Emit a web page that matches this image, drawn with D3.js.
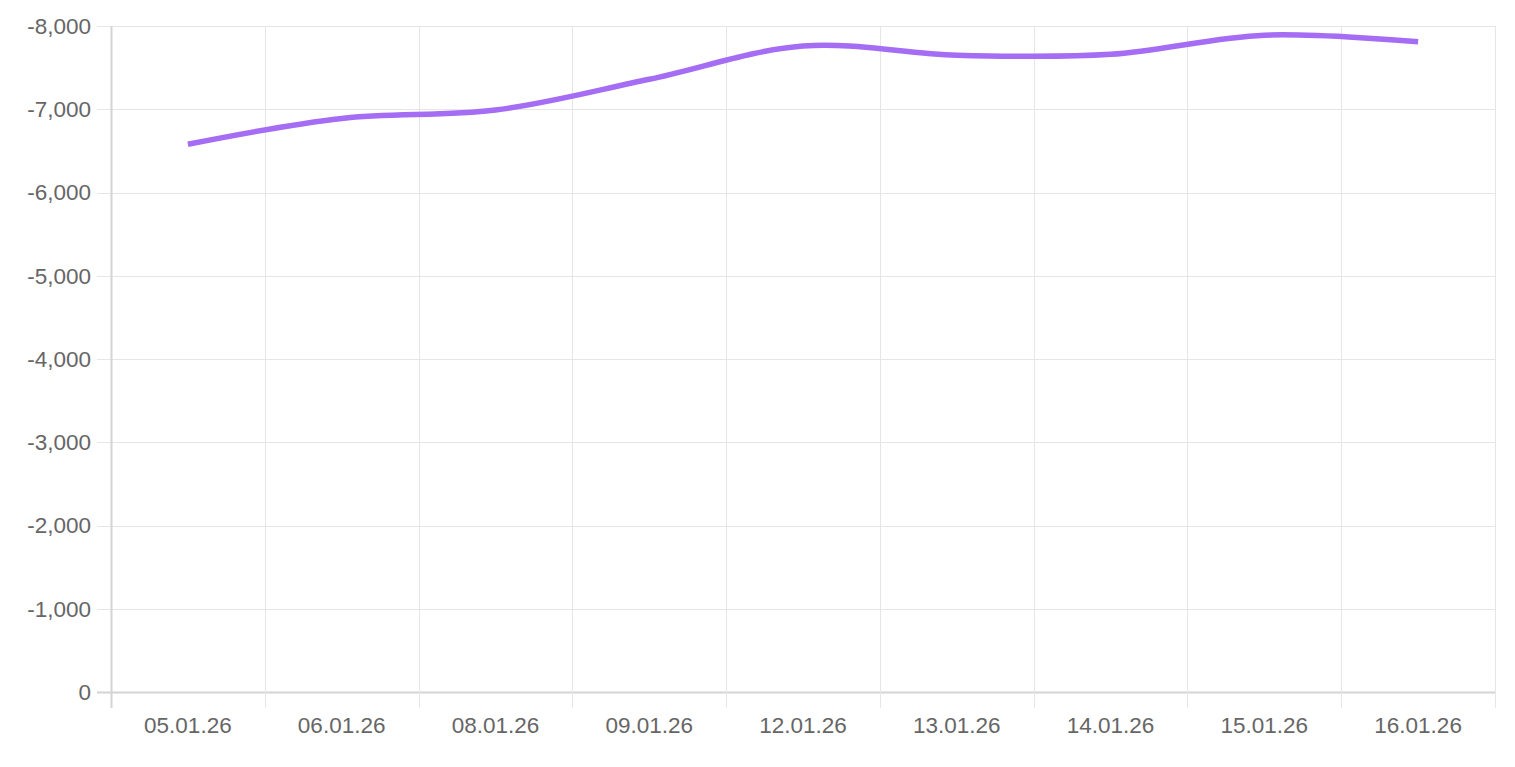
<!DOCTYPE html>
<html>
<head>
<meta charset="utf-8">
<script src="https://cdn.jsdelivr.net/npm/d3@7"></script>
<style>
  body { margin: 0; background: #fff; }
  text { font-family: "Liberation Sans", Arial, sans-serif; }
</style>
</head>
<body>
<div id="graph"></div>
<script>
var dates = ["05.01.26", "06.01.26", "08.01.26", "09.01.26", "12.01.26", "13.01.26", "14.01.26", "15.01.26", "16.01.26"];
var values = [-6580, -6890, -6990, -7360, -7760, -7650, -7660, -7890, -7810];
var yTicks = [0, -1000, -2000, -3000, -4000, -5000, -6000, -7000, -8000];

var width = 1515, height = 767;
var margins = {top: 26, right: 20, bottom: 75, left: 111};
var tickLen = 14;

var svg = d3.select('#graph')
  .append('svg')
  .attr('width', width)
  .attr('height', height)
  .style('display', 'block');

var x = d3.scaleBand()
  .domain(dates)
  .range([margins.left, width - margins.right])
  .padding(0);

/* y runs from 0 at the bottom to -8000 at the top */
var y = d3.scaleLinear()
  .domain([0, -8000])
  .range([height - margins.bottom, margins.top]);

var fmt = d3.formatLocale({decimal: ".", thousands: ",", grouping: [3], currency: ["", ""], minus: "-"}).format(",");

var bottom = height - margins.bottom;
var right = width - margins.right;

// horizontal grid
svg.append('g')
  .selectAll('line')
  .data(yTicks)
  .join('line')
  .attr('x1', margins.left - tickLen)
  .attr('x2', right)
  .attr('y1', function(d) { return Math.round(y(d)) + 0.5; })
  .attr('y2', function(d) { return Math.round(y(d)) + 0.5; })
  .attr('stroke', function(d) { return d === 0 ? '#d4d4d4' : '#e6e6e6'; })
  .attr('stroke-width', function(d) { return d === 0 ? 2 : 1; });

// vertical grid at band edges
var edges = dates.map(function(d) { return x(d); }).concat([right]);
svg.append('g')
  .selectAll('line')
  .data(edges)
  .join('line')
  .attr('x1', function(d) { return Math.round(d) + 0.5; })
  .attr('x2', function(d) { return Math.round(d) + 0.5; })
  .attr('y1', margins.top)
  .attr('y2', bottom + tickLen + 2)
  .attr('stroke', function(d, i) { return i === 0 ? '#d4d4d4' : '#e6e6e6'; })
  .attr('stroke-width', function(d, i) { return i === 0 ? 2 : 1; });

// y labels
svg.append('g')
  .selectAll('text')
  .data(yTicks)
  .join('text')
  .attr('x', margins.left - tickLen - 6)
  .attr('y', function(d) { return y(d); })
  .attr('dy', '0.35em')
  .attr('text-anchor', 'end')
  .attr('fill', '#666')
  .style('font-size', '22.5px')
  .text(function(d) { return fmt(d); });

// x labels
svg.append('g')
  .selectAll('text')
  .data(dates)
  .join('text')
  .attr('x', function(d) { return x(d) + x.bandwidth() / 2; })
  .attr('y', bottom + 41)
  .attr('text-anchor', 'middle')
  .attr('fill', '#666')
  .style('font-size', '22.5px')
  .text(function(d) { return d; });

var lineFunc = d3.line()
  .x(function(d, i) { return x(dates[i]) + x.bandwidth() / 2; })
  .y(function(d) { return y(d); })
  .curve(d3.curveCatmullRom.alpha(0.5));

svg.append('path')
  .attr('d', lineFunc(values))
  .attr('fill', 'none')
  .attr('stroke', '#a56cf4')
  .attr('stroke-width', 5.5)
  .attr('stroke-linecap', 'butt');
</script>
</body>
</html>
